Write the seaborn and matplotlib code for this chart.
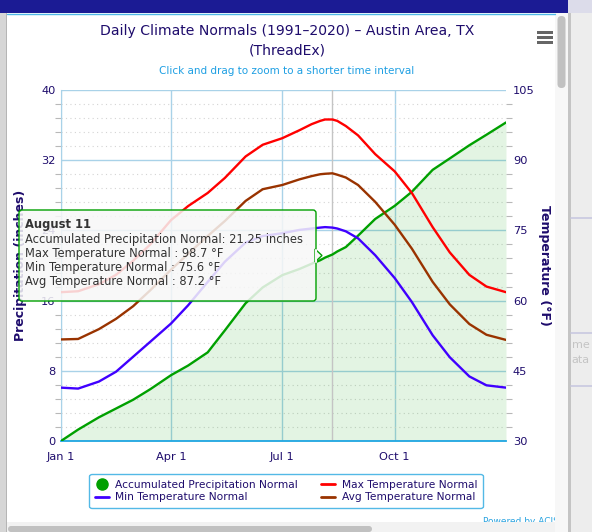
import matplotlib
matplotlib.use("Agg")
import matplotlib.pyplot as plt
from matplotlib.patches import Rectangle, FancyBboxPatch, Polygon
from matplotlib.lines import Line2D
from matplotlib.ticker import MultipleLocator
from matplotlib.transforms import IdentityTransform
import seaborn as sns
import pandas as pd

# values (1st / 15th of each month + a few around the summer peak)
days = ["01-01", "01-15", "02-01", "02-15", "03-01", "03-15", "04-01", "04-15",
        "05-01", "05-15", "06-01", "06-15", "07-01", "07-15", "07-25", "08-01",
        "08-05", "08-11", "08-15", "08-22", "09-01", "09-15", "10-01", "10-15",
        "11-01", "11-15", "12-01", "12-15", "12-31"]
precip = [0.0, 1.3, 2.7, 3.7, 4.7, 5.9, 7.5, 8.6, 10.1, 12.6, 15.7, 17.5, 18.9,
          19.6, 20.2, 20.6, 20.9, 21.25, 21.6, 22.1, 23.4, 25.3, 26.8, 28.4, 30.9,
          32.2, 33.7, 34.9, 36.3]
max_temp = [61.8, 62.0, 63.5, 65.5, 68.5, 72.0, 77.2, 80.2, 83.0, 86.2, 90.8, 93.3, 94.7,
            96.4, 97.7, 98.4, 98.7, 98.7, 98.4, 97.3, 95.3, 91.3, 87.6, 83.0, 75.7,
            70.3, 65.5, 63.0, 61.8]
min_temp = [41.4, 41.2, 42.7, 44.8, 48.0, 51.2, 55.1, 59.0, 64.0, 68.3, 72.4, 73.8, 74.4,
            75.1, 75.4, 75.6, 75.7, 75.6, 75.4, 74.8, 73.3, 69.7, 64.8, 59.7, 52.6,
            47.9, 43.8, 41.9, 41.4]
avg_temp = [51.7, 51.8, 53.9, 56.1, 58.8, 62.2, 66.6, 70.0, 73.8, 77.0, 81.3, 83.8, 84.7,
            85.9, 86.6, 87.0, 87.1, 87.2, 86.9, 86.3, 84.7, 81.1, 76.2, 71.1, 64.0,
            59.2, 55.0, 52.7, 51.6]

tick_days = ["01-01", "04-01", "07-01", "10-01"]
tick_labels = ["Jan 1", "Apr 1", "Jul 1", "Oct 1"]

hover_day = "08-11"
hover_title = "August 11"
hover_lines = ["Accumulated Precipitation Normal: 21.25 inches",
               "Max Temperature Normal : 98.7 °F",
               "Min Temperature Normal : 75.6 °F",
               "Avg Temperature Normal : 87.2 °F"]

GREEN = "#00a000"
RED = "#ff0000"
BLUE = "#4000ff"
BROWN = "#993300"
NAVY = "#1e0c6c"
GRID = "#a9d2e8"

W, H = 592, 532

sns.set_style("white")
plt.rcParams["font.family"] = ["DejaVu Sans"]

df = pd.DataFrame({"date": pd.to_datetime(["2021-" + d for d in days]),
                   "precip": precip, "max": max_temp, "min": min_temp, "avg": avg_temp})


def fx(px):
    return px / W


def fy(py):
    return 1 - py / H


def pix(x, y):
    return (x, H - y)


fig = plt.figure(figsize=(W / 100, H / 100), dpi=100, facecolor="white")
ax = fig.add_axes([fx(61), fy(441), fx(506) - fx(61), fy(90) - fy(441)])
ax.set_facecolor("none")

# precipitation (left axis)
ax.fill_between(df["date"], df["precip"], color=GREEN, alpha=0.11, lw=0, zorder=1)
sns.lineplot(data=df, x="date", y="precip", ax=ax, color=GREEN, lw=1.7, zorder=3)
ax.axvline(pd.Timestamp("2021-" + hover_day), color="#c4c4c4", lw=1, zorder=2)
ax.set_ylim(0, 40)
ax.set_xlim(pd.Timestamp("2021-01-01"), pd.Timestamp("2021-12-31"))
ax.yaxis.set_major_locator(MultipleLocator(8))
ax.yaxis.set_minor_locator(MultipleLocator(1.6))
ax.set_xticks(pd.to_datetime(["2021-" + d for d in tick_days]))
ax.set_xticklabels(tick_labels)
ax.set_axisbelow(True)
ax.grid(which="major", axis="both", color=GRID, lw=1)
ax.grid(which="minor", axis="y", color="#d4d4d4", lw=0.8, ls=(0, (1, 3)))
ax.tick_params(axis="x", length=7, color=GRID, width=1, pad=1, labelsize=8.2, labelcolor=NAVY)
ax.tick_params(axis="y", which="major", length=0, pad=4, labelsize=8.2, labelcolor=NAVY)
ax.tick_params(axis="y", which="minor", length=4, color="#b8b8b8", width=0.8, left=True)
for s in ["top", "right"]:
    ax.spines[s].set_visible(False)
ax.spines["left"].set_color(GRID)
ax.spines["bottom"].set_color("#1fa6e2")
ax.spines["bottom"].set_linewidth(1.3)
ax.set_xlabel("")
ax.set_ylabel("Precipitation (inches)", color=NAVY, fontsize=9, fontweight="bold")
ax.yaxis.set_label_coords((27 - 61) / 445, 0.5)

# temperatures (right axis)
ax2 = ax.twinx()
sns.lineplot(data=df, x="date", y="max", ax=ax2, color=RED, lw=1.7)
sns.lineplot(data=df, x="date", y="min", ax=ax2, color=BLUE, lw=1.7)
sns.lineplot(data=df, x="date", y="avg", ax=ax2, color=BROWN, lw=1.7)
ax2.set_ylim(30, 105)
ax2.yaxis.set_major_locator(MultipleLocator(15))
ax2.yaxis.set_minor_locator(MultipleLocator(3))
ax2.tick_params(axis="y", which="major", length=0, pad=5, labelsize=8.2, labelcolor=NAVY)
ax2.tick_params(axis="y", which="minor", length=4, color="#b8b8b8", width=0.8, right=True)
for s in ["top", "right", "left", "bottom"]:
    ax2.spines[s].set_visible(False)
ax2.set_xlabel("")
ax2.set_ylabel("Temperature (°F)", color=NAVY, fontsize=9, fontweight="bold", rotation=270,
               va="center")
ax2.yaxis.set_label_coords((544 - 61) / 445, 0.5)

# titles
fig.text(fx(287), fy(31), "Daily Climate Normals (1991–2020) – Austin Area, TX",
         ha="center", va="center", fontsize=10.1, color=NAVY)
fig.text(fx(287), fy(50), "(ThreadEx)", ha="center", va="center", fontsize=10.1, color=NAVY)
fig.text(fx(287), fy(71), "Click and drag to zoom to a shorter time interval",
         ha="center", va="center", fontsize=7.5, color="#1e9fe3")

# legend
handles = [
    Line2D([], [], color=GREEN, marker="o", ls="", ms=8),
    Line2D([], [], color=BLUE, lw=2),
    Line2D([], [], color=RED, lw=2),
    Line2D([], [], color=BROWN, lw=2),
]
labels = ["Accumulated Precipitation Normal", "Min Temperature Normal",
          "Max Temperature Normal", "Avg Temperature Normal"]
leg = fig.legend(handles, labels, loc="center", bbox_to_anchor=(fx(286), fy(491)), ncol=2,
                 fontsize=7.7, labelcolor=NAVY, frameon=True, fancybox=True, edgecolor="#28a8e0",
                 handlelength=1.3, handletextpad=0.6, columnspacing=2.2, labelspacing=0.25,
                 borderpad=0.5)
leg.get_frame().set_linewidth(1)

idt = IdentityTransform()

# tooltip
tip = FancyBboxPatch(pix(19, 301), 297, 91, boxstyle="round,pad=0,rounding_size=3",
                     transform=idt, fc=(0.97, 0.97, 0.97, 0.85), ec=GREEN, lw=1, zorder=10)
fig.add_artist(tip)
fig.add_artist(Polygon([pix(315, 249), pix(322, 255.5), pix(315, 262)], closed=True,
                       transform=idt, fc=(0.97, 0.97, 0.97, 0.85), ec=GREEN, lw=1, zorder=10))
fig.add_artist(Line2D([315.5, 315.5], [H - 249.5, H - 261.5], transform=idt,
                      color=(0.97, 0.97, 0.97), lw=1.5, zorder=11))
fig.text(fx(25), fy(228), hover_title, fontsize=8.3, fontweight="bold", color="#333333",
         va="baseline", zorder=12)
for i, line in enumerate(hover_lines):
    fig.text(fx(25), fy(242.5 + 14.3 * i), line, fontsize=8.3, color="#333333",
             va="baseline", zorder=12)

# hamburger menu
for yy in [32, 37, 42]:
    fig.add_artist(Rectangle(pix(537, yy + 1.5), 16, 3, transform=idt, fc="#666666", lw=0))

fig.text(fx(483), fy(521), "Powered by ACIS", fontsize=6.5, color="#29a3e0", va="center",
         zorder=1)

# browser frame around the chart
frame = [
    ((0, 13), 7, 519, "#d6d6d6"),
    ((6, 13), 1.2, 519, "#b5b5b5"),
    ((0, 0), 568, 13, "#1b1b94"),
    ((568, 0), 24, 13, "#dcdcea"),
    ((555, 13), 13, 519, "#f7f7f7"),
    ((568, 13), 3, 519, "#c4c4c4"),
    ((571, 13), 21, 519, "#ededed"),
    ((7, 522), 548, 10, "#f2f2f2"),
]
for (x0, y0), w, h, c in frame:
    fig.add_artist(Rectangle(pix(x0, y0 + h), w, h, transform=idt, fc=c, lw=0, zorder=20))
fig.add_artist(FancyBboxPatch(pix(557.5, 88), 8, 72, boxstyle="round,pad=0,rounding_size=4",
                              transform=idt, fc="#c1c1c1", lw=0, zorder=21))
fig.add_artist(FancyBboxPatch(pix(8, 532), 364, 6, boxstyle="round,pad=0,rounding_size=3",
                              transform=idt, fc="#c1c1c1", lw=0, zorder=21))
for yy in [218, 333, 386]:
    fig.add_artist(Line2D([571, 592], [H - yy, H - yy], transform=idt, color="#c8c8e0",
                          lw=1.2, zorder=21))
fig.text(fx(572), fy(345), "me", fontsize=8, color="#c4c4c4", va="center", zorder=22)
fig.text(fx(571), fy(360), "ata", fontsize=8, color="#c4c4c4", va="center", zorder=22)
fig.add_artist(Line2D([7, 555], [H - 13.5, H - 13.5], transform=idt, color="#4fb8e6",
                      lw=1, zorder=21))

fig.savefig("out.png", dpi=100, facecolor="white")
